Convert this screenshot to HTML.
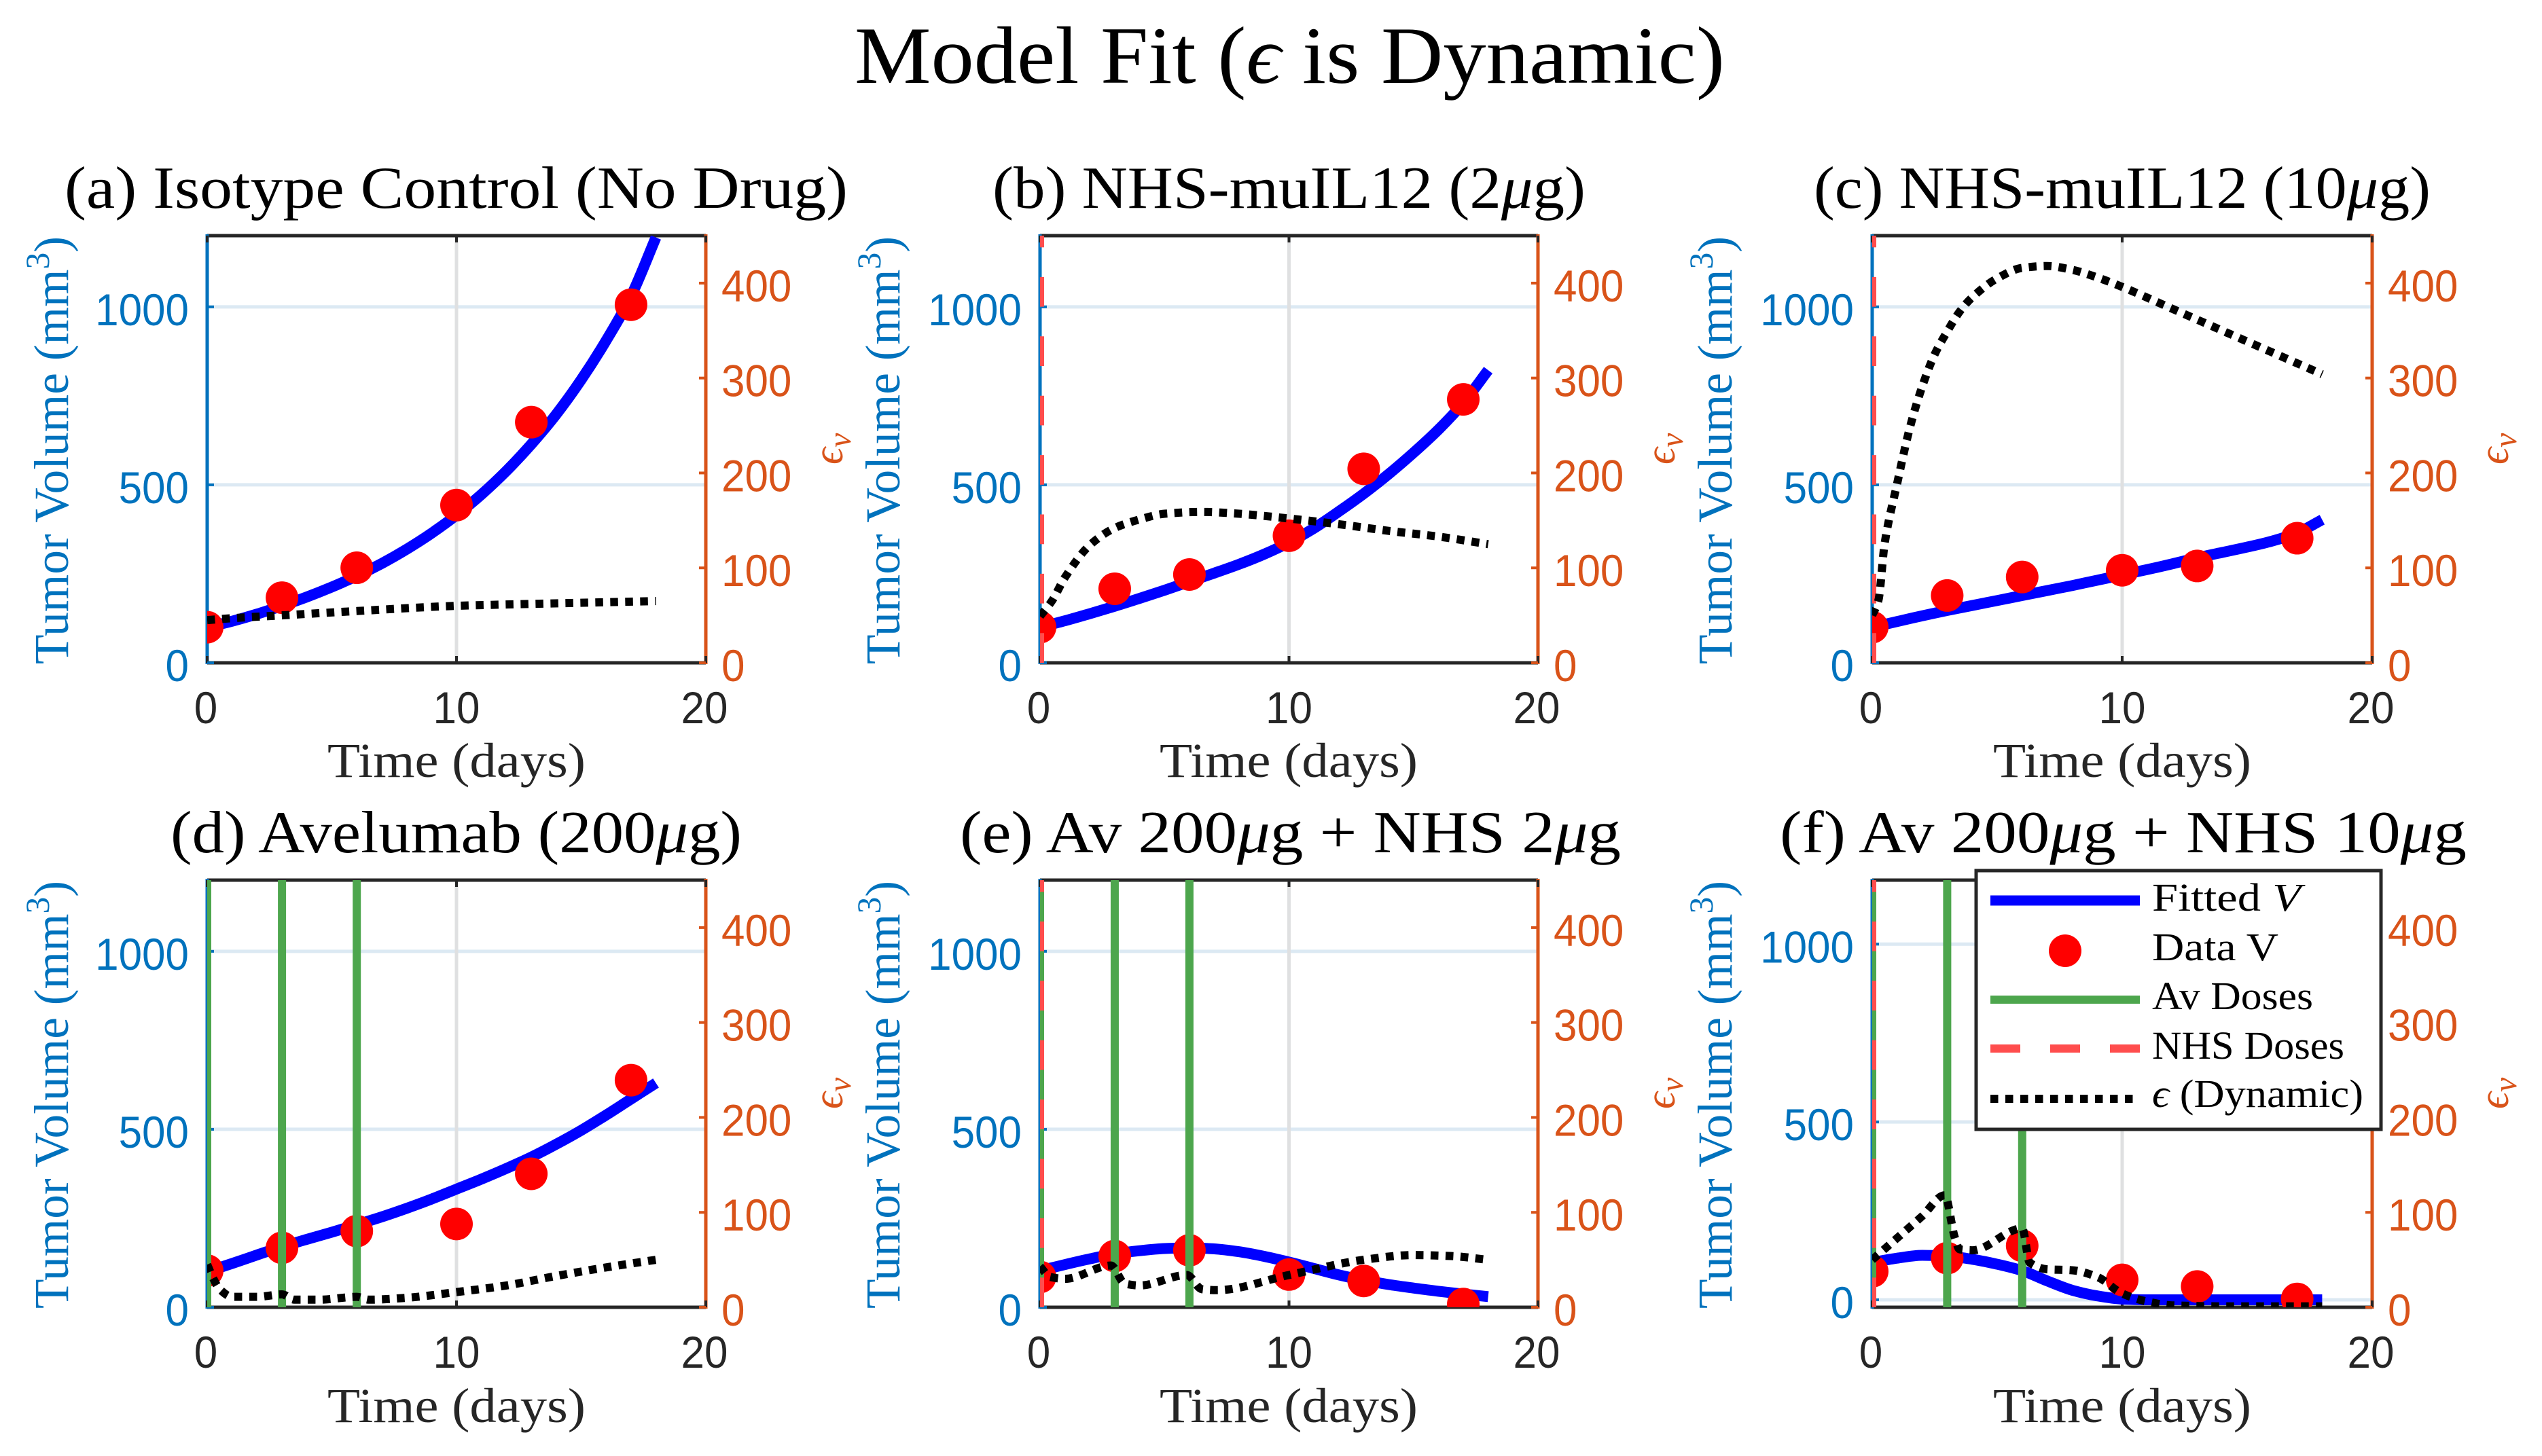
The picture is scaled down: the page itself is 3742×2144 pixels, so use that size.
<!DOCTYPE html>
<html>
<head>
<meta charset="utf-8">
<title>Model Fit</title>
<style>
html,body{margin:0;padding:0;background:#fff;}
svg{display:block;}
.serif{font-family:"Liberation Serif","DejaVu Serif",serif;}
.sans{font-family:"Liberation Sans","DejaVu Sans",sans-serif;}
.ptitle{font-size:88px;fill:#000;}
.ylab{font-size:72px;fill:#0072BD;}
.xlab{font-size:72px;fill:#262626;}
.elab{font-size:62px;fill:#D95319;font-style:italic;}
.leg{font-size:58px;fill:#000;}
</style>
</head>
<body>
<svg id="fig" xmlns="http://www.w3.org/2000/svg" width="3742" height="2144" viewBox="0 0 3742 2144">
<rect x="0" y="0" width="3742" height="2144" fill="#fff"/>
<text class="serif" x="1258" y="122" font-size="120" fill="#000" textLength="1281" lengthAdjust="spacingAndGlyphs">Model Fit (<tspan font-style="italic">ϵ</tspan> is Dynamic)</text>

<g id="panel-a">
<text class="serif ptitle" x="95" y="306" textLength="1153" lengthAdjust="spacingAndGlyphs">(a) Isotype Control (No Drug)</text>
<text class="serif ylab" transform="translate(100,978) rotate(-90)" textLength="630" lengthAdjust="spacingAndGlyphs">Tumor Volume (mm<tspan font-size="50" dy="-28">3</tspan><tspan dy="28">)</tspan></text>
<text class="serif xlab" x="482" y="1144" textLength="380" lengthAdjust="spacingAndGlyphs">Time (days)</text>
<text class="serif elab" transform="translate(1240,684) rotate(-90)">ϵ<tspan font-size="48" dy="12">v</tspan></text>
</g>

<g id="panel-b">
<text class="serif ptitle" x="1461" y="306" textLength="873" lengthAdjust="spacingAndGlyphs">(b) NHS-muIL12 (2<tspan font-style="italic">μ</tspan>g)</text>
<text class="serif ylab" transform="translate(1324,978) rotate(-90)" textLength="630" lengthAdjust="spacingAndGlyphs">Tumor Volume (mm<tspan font-size="50" dy="-28">3</tspan><tspan dy="28">)</tspan></text>
<text class="serif xlab" x="1707" y="1144" textLength="380" lengthAdjust="spacingAndGlyphs">Time (days)</text>
<text class="serif elab" transform="translate(2465,684) rotate(-90)">ϵ<tspan font-size="48" dy="12">v</tspan></text>
</g>

<g id="panel-c">
<text class="serif ptitle" x="2670" y="306" textLength="908" lengthAdjust="spacingAndGlyphs">(c) NHS-muIL12 (10<tspan font-style="italic">μ</tspan>g)</text>
<text class="serif ylab" transform="translate(2549,978) rotate(-90)" textLength="630" lengthAdjust="spacingAndGlyphs">Tumor Volume (mm<tspan font-size="50" dy="-28">3</tspan><tspan dy="28">)</tspan></text>
<text class="serif xlab" x="2934" y="1144" textLength="380" lengthAdjust="spacingAndGlyphs">Time (days)</text>
<text class="serif elab" transform="translate(3692,684) rotate(-90)">ϵ<tspan font-size="48" dy="12">v</tspan></text>
</g>

<g id="panel-d">
<text class="serif ptitle" x="251" y="1255" textLength="841" lengthAdjust="spacingAndGlyphs">(d) Avelumab (200<tspan font-style="italic">μ</tspan>g)</text>
<text class="serif ylab" transform="translate(100,1927) rotate(-90)" textLength="630" lengthAdjust="spacingAndGlyphs">Tumor Volume (mm<tspan font-size="50" dy="-28">3</tspan><tspan dy="28">)</tspan></text>
<text class="serif xlab" x="482" y="2094" textLength="380" lengthAdjust="spacingAndGlyphs">Time (days)</text>
<text class="serif elab" transform="translate(1240,1633) rotate(-90)">ϵ<tspan font-size="48" dy="12">v</tspan></text>
</g>

<g id="panel-e">
<text class="serif ptitle" x="1413" y="1255" textLength="973" lengthAdjust="spacingAndGlyphs">(e) Av 200<tspan font-style="italic">μ</tspan>g + NHS 2<tspan font-style="italic">μ</tspan>g</text>
<text class="serif ylab" transform="translate(1324,1927) rotate(-90)" textLength="630" lengthAdjust="spacingAndGlyphs">Tumor Volume (mm<tspan font-size="50" dy="-28">3</tspan><tspan dy="28">)</tspan></text>
<text class="serif xlab" x="1707" y="2094" textLength="380" lengthAdjust="spacingAndGlyphs">Time (days)</text>
<text class="serif elab" transform="translate(2465,1633) rotate(-90)">ϵ<tspan font-size="48" dy="12">v</tspan></text>
</g>

<g id="panel-f">
<text class="serif ptitle" x="2620" y="1255" textLength="1011" lengthAdjust="spacingAndGlyphs">(f) Av 200<tspan font-style="italic">μ</tspan>g + NHS 10<tspan font-style="italic">μ</tspan>g</text>
<text class="serif ylab" transform="translate(2549,1927) rotate(-90)" textLength="630" lengthAdjust="spacingAndGlyphs">Tumor Volume (mm<tspan font-size="50" dy="-28">3</tspan><tspan dy="28">)</tspan></text>
<text class="serif xlab" x="2934" y="2094" textLength="380" lengthAdjust="spacingAndGlyphs">Time (days)</text>
<text class="serif elab" transform="translate(3692,1633) rotate(-90)">ϵ<tspan font-size="48" dy="12">v</tspan></text>
</g>

<g id="legend">
<rect x="2909" y="1282" width="596" height="381" fill="#fff" stroke="#262626" stroke-width="5"/>
<g>
<line x1="2930" x2="3150" y1="1326" y2="1326" stroke="#0000FF" stroke-width="15"/>
<text class="serif leg" x="3168" y="1341" textLength="219" lengthAdjust="spacingAndGlyphs">Fitted <tspan font-style="italic">V</tspan></text>
</g>
<g>
<circle cx="3040" cy="1400" r="24" fill="#FF0000"/>
<text class="serif leg" x="3168" y="1414" textLength="186" lengthAdjust="spacingAndGlyphs">Data V</text>
</g>
<g>
<line x1="2930" x2="3150" y1="1472" y2="1472" stroke="#4DA64D" stroke-width="12"/>
<text class="serif leg" x="3168" y="1486" textLength="237" lengthAdjust="spacingAndGlyphs">Av Doses</text>
</g>
<g>
<line x1="2930" x2="3150" y1="1544" y2="1544" stroke="#FF4D4D" stroke-width="12" stroke-dasharray="44 44"/>
<text class="serif leg" x="3168" y="1559" textLength="283" lengthAdjust="spacingAndGlyphs">NHS Doses</text>
</g>
<g>
<line x1="2930" x2="3150" y1="1618" y2="1618" stroke="#000" stroke-width="12" stroke-dasharray="11.5 10.5"/>
<text class="serif leg" x="3168" y="1630" textLength="311" lengthAdjust="spacingAndGlyphs"><tspan font-style="italic">ϵ</tspan> (Dynamic)</text>
</g>
</g>

<script>
// ---- shared axis data ----
const xTicks = [0, 10, 20];
const yLeftTicks = [0, 500, 1000];
const yRightTicks = [0, 100, 200, 300, 400];
const xRange = [0, 20];
const yRightRange = [0, 450];
const dataDays = [0, 3, 6, 10, 13, 17];
const fitDays = [0, 1, 2, 3, 4, 5, 6, 7, 8, 9, 10, 11, 12, 13, 14, 15, 16, 17, 18];

// ---- panel (a) ----
const aData = [100, 183, 267, 443, 676, 1006];
const aFit = [100, 117, 137, 160, 185, 213, 244, 279, 319, 364, 415, 473, 539, 614, 698, 795, 905, 1030, 1195];
const aEpsT = [0, 1, 3, 6, 10, 13, 18];
const aEps = [45, 47, 50, 54.5, 60, 62, 65];
const aAv = [];
const aNhs = [];
const aYLeft = [0, 1200];

// ---- panel (b) ----
const bData = [100, 208, 248, 357, 545, 740];
const bFit = [100, 118, 138, 159, 181, 204, 228, 252, 277, 305, 338, 378, 425, 475, 530, 590, 655, 730, 822];
const bEpsT = [0, 0.5, 1, 2, 3, 4, 5, 6.5, 8, 10, 12, 14, 16, 18];
const bEps = [49, 66, 90, 124, 142, 151, 157, 159, 157, 152, 146, 139, 133, 125];
const bAv = [];
const bNhs = [0];
const bYLeft = [0, 1200];

// ---- panel (c) ----
const cData = [100, 189, 241, 260, 272, 350];
const cFit = [100, 116, 132, 147, 161, 175, 189, 203, 217, 232, 247, 262, 278, 295, 310, 325, 342, 365, 402];
const cEpsT = [0, 0.25, 0.5, 1, 1.5, 2, 2.5, 3, 3.5, 4, 5, 6, 7, 8, 9, 10, 12, 14, 16, 18];
const cEps = [50, 66, 126, 189, 247, 291, 325, 349, 370, 385, 405, 416, 418, 414, 406, 396, 373, 350, 327, 304];
const cAv = [];
const cNhs = [0];
const cYLeft = [0, 1200];

// ---- panel (d) ----
const dData = [103, 167, 214, 234, 375, 638];
const dFit = [100, 123, 147, 170, 191, 211, 232, 254, 278, 304, 332, 360, 390, 422, 458, 497, 540, 585, 630];
const dEpsT = [0, 0.25, 0.5, 1, 2, 3, 3.5, 4.5, 6, 6.5, 8, 10, 12, 14, 16, 18];
const dEps = [45, 30, 19, 11, 11, 13.6, 8, 8, 11, 8, 10, 16, 23, 33, 42, 50];
const dAv = [0, 3, 6];
const dNhs = [];
const dYLeft = [0, 1200];

// ---- panel (e) ----
const eData = [85, 144, 160, 92, 74, 9];
const eFit = [103, 120, 136, 150, 159, 165, 167, 164, 156, 143, 127, 109, 91, 76, 64, 54, 45, 37, 30];
const eEpsT = [0, 0.4, 1, 2.85, 3.4, 4, 5.9, 6.5, 7.1, 10, 13, 15, 16.5, 18];
const eEps = [43, 32, 30, 44, 25, 23, 34, 19, 18, 34, 50, 55, 54, 50];
const eAv = [0, 3, 6];
const eNhs = [0];
const eYLeft = [0, 1200];

// ---- panel (f) ----
const fData = [80, 117, 152, 56, 37.5, 2.5];
const fFit = [105, 117, 125, 123, 114, 100, 82, 53, 27, 11, 2, 0, 0, 0, 0, 0, 0, 0, 0];
const fEpsT = [0, 1, 2, 2.9, 3.3, 3.5, 4, 6, 6.3, 7, 8, 9, 10, 11, 12, 14, 18];
const fEps = [50, 73, 96, 118, 74, 61, 60, 83, 47, 40, 39, 32, 14.5, 6, 2, 1, 1];
const fAv = [0, 3, 6];
const fNhs = [0];
const fYLeft = [-21, 1180];

const NS = 'http://www.w3.org/2000/svg';
function mk(tag, attrs, parent, txt) {
  const e = document.createElementNS(NS, tag);
  for (const k in attrs) e.setAttribute(k, attrs[k]);
  if (txt !== undefined) e.textContent = txt;
  parent.appendChild(e);
  return e;
}
function smoothPath(xs, ys) {
  const n = xs.length, d = [], m = [];
  for (let i = 0; i < n - 1; i++) d.push((ys[i + 1] - ys[i]) / (xs[i + 1] - xs[i]));
  m.push(d[0]);
  for (let i = 1; i < n - 1; i++) m.push(d[i - 1] * d[i] <= 0 ? 0 : 2 * d[i - 1] * d[i] / (d[i - 1] + d[i]));
  m.push(d[n - 2]);
  let s = 'M' + xs[0].toFixed(1) + ' ' + ys[0].toFixed(1);
  for (let i = 0; i < n - 1; i++) {
    const h = (xs[i + 1] - xs[i]) / 3;
    s += 'C' + (xs[i] + h).toFixed(1) + ' ' + (ys[i] + m[i] * h).toFixed(1) + ' ' + (xs[i + 1] - h).toFixed(1) + ' ' + (ys[i + 1] - m[i + 1] * h).toFixed(1) + ' ' + xs[i + 1].toFixed(1) + ' ' + ys[i + 1].toFixed(1);
  }
  return s;
}
function tickAttrs(base, label) {
  base.class = 'sans';
  base['font-size'] = 66;
  base.textLength = (String(label).length * 0.556 * 62).toFixed(1);
  base.lengthAdjust = 'spacingAndGlyphs';
  return base;
}
function drawPanel(key, box, dataV, fitV, epsT, eps, av, nhs, yLeft) {
  const host = document.getElementById('panel-' + key);
  const L = box[0], R = box[1], T = box[2], B = box[3];
  const X = t => L + (t - xRange[0]) / (xRange[1] - xRange[0]) * (R - L);
  const YL = v => B - (v - yLeft[0]) / (yLeft[1] - yLeft[0]) * (B - T);
  const YR = v => B - (v - yRightRange[0]) / (yRightRange[1] - yRightRange[0]) * (B - T);

  const clipId = 'clip-' + key;
  const defs = mk('defs', {}, host);
  const cp = mk('clipPath', { id: clipId }, defs);
  mk('rect', { x: L, y: T, width: R - L, height: B - T }, cp);

  const grid = mk('g', {}, host);
  
  
  yLeftTicks.forEach(v => {
    const g = mk('line', { x1: L, x2: R, y1: YL(v), y2: YL(v), stroke: '#DCE9F3', 'stroke-width': 5 }, grid);
    
    
  });
  xTicks.forEach(v => {
    const g = mk('line', { x1: X(v), x2: X(v), y1: T, y2: B, stroke: '#DFE0E1', 'stroke-width': 5 }, grid);
    
    
  });

  const axes = mk('g', {}, host);
  
  
  const topLine = mk('line', { x1: L, x2: R, y1: T, y2: T, stroke: '#262626', 'stroke-width': 5 }, axes);
  
  
  const botLine = mk('line', { x1: L, x2: R, y1: B, y2: B, stroke: '#262626', 'stroke-width': 5 }, axes);
  
  
  const leftLine = mk('line', { x1: L, x2: L, y1: T - 2, y2: B + 2, stroke: '#0072BD', 'stroke-width': 5 }, axes);
  
  
  const rightLine = mk('line', { x1: R, x2: R, y1: T - 2, y2: B + 2, stroke: '#D95319', 'stroke-width': 5 }, axes);
  
  

  xTicks.forEach(v => {
    const t1 = mk('line', { x1: X(v), x2: X(v), y1: B, y2: B - 10, stroke: '#262626', 'stroke-width': 4 }, axes);
    
    
    const t2 = mk('line', { x1: X(v), x2: X(v), y1: T, y2: T + 10, stroke: '#262626', 'stroke-width': 4 }, axes);
    
    
    const lab = mk('text', tickAttrs({ x: X(v) - (v === 10 ? 0 : 2), y: B + 89, 'text-anchor': 'middle', fill: '#262626' }, v), axes, String(v));
    
    
  });
  yLeftTicks.forEach(v => {
    const t1 = mk('line', { x1: L, x2: L + 10, y1: YL(v), y2: YL(v), stroke: '#0072BD', 'stroke-width': 4 }, axes);
    
    
    const lab = mk('text', tickAttrs({ x: L - 27, y: YL(v) + 27, 'text-anchor': 'end', fill: '#0072BD' }, v), axes, String(v));
    
    
  });
  yRightTicks.forEach(v => {
    const t1 = mk('line', { x1: R, x2: R - 10, y1: YR(v), y2: YR(v), stroke: '#D95319', 'stroke-width': 4 }, axes);
    
    
    const lab = mk('text', tickAttrs({ x: R + 23, y: YR(v) + 27, fill: '#D95319' }, v), axes, String(v));
    
    
  });

  const marks = mk('g', { 'clip-path': 'url(#' + clipId + ')' }, host);
  
  

  const fit = mk('path', { d: smoothPath(fitDays.map(X), fitV.map(YL)), fill: 'none', stroke: '#0000FF', 'stroke-width': 16 }, marks);
  
  

  dataV.forEach((v, i) => {
    const c = mk('circle', { cx: X(dataDays[i]), cy: YL(v), r: 24, fill: '#FF0000' }, marks);
    
    
  });
  av.forEach(t => {
    const l = mk('line', { x1: X(t), x2: X(t), y1: T, y2: B, stroke: '#4DA64D', 'stroke-width': 12 }, marks);
    
    
  });
  nhs.forEach(t => {
    const l = mk('line', { x1: X(t), x2: X(t), y1: B, y2: T, stroke: '#FF4D4D', 'stroke-width': 12, 'stroke-dasharray': '43.7 43.7' }, marks);
    
    
  });

  const ep = mk('path', { d: smoothPath(epsT.map(X), eps.map(YR)), fill: 'none', stroke: '#000', 'stroke-width': 12, 'stroke-dasharray': '11.5 10.5' }, marks);
  
  
}
drawPanel('a', [305, 1039, 347, 976], aData, aFit, aEpsT, aEps, aAv, aNhs, aYLeft);
drawPanel('b', [1531, 2264, 347, 976], bData, bFit, bEpsT, bEps, bAv, bNhs, bYLeft);
drawPanel('c', [2756, 3492, 347, 976], cData, cFit, cEpsT, cEps, cAv, cNhs, cYLeft);
drawPanel('d', [305, 1039, 1296, 1925], dData, dFit, dEpsT, dEps, dAv, dNhs, dYLeft);
drawPanel('e', [1531, 2264, 1296, 1925], eData, eFit, eEpsT, eEps, eAv, eNhs, eYLeft);
drawPanel('f', [2756, 3492, 1296, 1925], fData, fFit, fEpsT, fEps, fAv, fNhs, fYLeft);
</script>
</svg>
</body>
</html>
